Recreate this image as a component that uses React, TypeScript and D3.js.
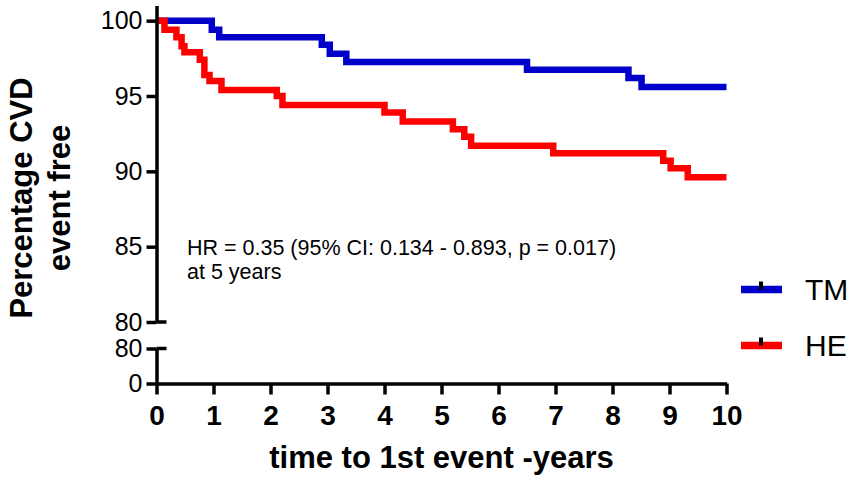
import * as d3 from "d3";
import { useEffect, useRef } from "react";

// Kaplan-Meier steps: [years, % event free]
const TM_STEPS: [number, number][] = [
  [0, 100], [0.97, 99.4], [1.1, 98.9], [2.9, 98.4], [3.04, 97.8], [3.33, 97.25],
  [6.5, 96.75], [8.28, 96.2], [8.51, 95.6], [10, 95.6],
];
const HE_STEPS: [number, number][] = [
  [0, 100], [0.14, 99.4], [0.35, 98.9], [0.44, 98.3], [0.49, 97.9], [0.76, 97.4],
  [0.84, 96.4], [0.93, 96.0], [1.14, 95.4], [2.11, 95.0], [2.21, 94.4], [4.0, 93.9],
  [4.32, 93.3], [5.2, 92.8], [5.4, 92.3], [5.52, 91.7], [6.96, 91.2], [8.89, 90.7],
  [9.02, 90.2], [9.32, 89.6], [10, 89.6],
];
const SERIES_NAMES = ["TM", "HE"];
const SERIES_COLORS = ["#0000c8", "#ff0000"];
const X_TICKS = [0, 1, 2, 3, 4, 5, 6, 7, 8, 9, 10];
const Y_TOP_TICKS = [80, 85, 90, 95, 100];
const Y_BOTTOM_TICKS = [0, 80];
const ANNOTATION = ["HR = 0.35 (95% CI: 0.134 - 0.893, p = 0.017)", "at 5 years"];

const W = 851;
const H = 481;
const FONT = "Arial, 'Liberation Sans', sans-serif";

export default function App() {
  const svgRef = useRef<SVGSVGElement | null>(null);

  useEffect(() => {
    const svg = d3.select(svgRef.current);
    svg.selectAll("*").remove();

    const x0 = 156.5;
    const x = d3.scaleLinear().domain([0, 10]).range([x0, 726.5]);
    const yTop = d3.scaleLinear().domain([80, 101]).range([322, 5.6]);
    const yBottom = d3.scaleLinear().domain([0, 80]).range([383.5, 348.5]);

    const styleAxis = (g: d3.Selection<SVGGElement, unknown, null, undefined>) => {
      g.selectAll("path, line").attr("stroke", "#000").attr("stroke-width", 3.5);
      g.selectAll("text").attr("fill", "#000").attr("font-family", FONT);
    };

    // curves (blue under red)
    const line = d3
      .line<[number, number]>()
      .x(d => x(d[0]))
      .y(d => yTop(d[1]))
      .curve(d3.curveStepAfter);

    [TM_STEPS, HE_STEPS].forEach((series, i) => {
      svg.append("path")
        .attr("d", line(series))
        .attr("fill", "none")
        .attr("stroke", SERIES_COLORS[i])
        .attr("stroke-width", 6.5);
    });

    // upper y axis
    const gTop = svg.append("g").attr("transform", `translate(${x0},0)`)
      .call(d3.axisLeft(yTop).tickValues(Y_TOP_TICKS).tickSize(10).tickSizeOuter(0).tickPadding(4));
    styleAxis(gTop);
    gTop.selectAll("text").attr("font-size", 25);
    gTop.append("line")
      .attr("x1", 0).attr("x2", 10)
      .attr("y1", yTop(80)).attr("y2", yTop(80))
      .attr("stroke", "#000").attr("stroke-width", 3.5);

    // lower y axis
    const gBot = svg.append("g").attr("transform", `translate(${x0},0)`)
      .call(d3.axisLeft(yBottom).tickValues(Y_BOTTOM_TICKS).tickSize(10).tickSizeOuter(0).tickPadding(4));
    styleAxis(gBot);
    gBot.selectAll("text").attr("font-size", 25);
    gBot.append("line")
      .attr("x1", 0).attr("x2", 10)
      .attr("y1", yBottom(80)).attr("y2", yBottom(80))
      .attr("stroke", "#000").attr("stroke-width", 3.5);

    // x axis
    const gX = svg.append("g").attr("transform", `translate(0,${yBottom(0)})`)
      .call(d3.axisBottom(x).tickValues(X_TICKS).tickSize(11).tickSizeOuter(0).tickPadding(11).tickFormat(d3.format("d")));
    styleAxis(gX);
    gX.selectAll("text").attr("font-size", 28).attr("font-weight", "bold");

    // axis titles
    svg.append("text")
      .attr("x", x(5))
      .attr("y", 468)
      .attr("text-anchor", "middle")
      .attr("font-family", FONT)
      .attr("font-weight", "bold")
      .attr("font-size", 31)
      .text("time to 1st event -years");

    const yTitle = svg.append("g").attr("transform", "translate(0,198) rotate(-90)");
    ["Percentage CVD", "event free"].forEach((t, i) => {
      yTitle.append("text")
        .attr("x", 0)
        .attr("y", 32 + i * 38)
        .attr("text-anchor", "middle")
        .attr("font-family", FONT)
        .attr("font-weight", "bold")
        .attr("font-size", 31)
        .text(t);
    });

    // annotation
    ANNOTATION.forEach((t, i) => {
      svg.append("text")
        .attr("x", 187)
        .attr("y", 255 + i * 23.5)
        .attr("font-family", FONT)
        .attr("font-size", 21.5)
        .text(t);
    });

    // legend
    SERIES_NAMES.forEach((name, i) => {
      const cy = 289.5 + i * 56;
      const lg = svg.append("g");
      lg.append("line")
        .attr("x1", 741).attr("x2", 782)
        .attr("y1", cy).attr("y2", cy)
        .attr("stroke", SERIES_COLORS[i])
        .attr("stroke-width", 7.5);
      lg.append("line")
        .attr("x1", 761).attr("x2", 761)
        .attr("y1", cy - 8).attr("y2", cy)
        .attr("stroke", "#000")
        .attr("stroke-width", 4);
      lg.append("text")
        .attr("x", 805)
        .attr("y", cy + 10.5)
        .attr("font-family", FONT)
        .attr("font-size", 30)
        .text(name);
    });
  }, []);

  return (
    <svg
      ref={svgRef}
      width={W}
      height={H}
      style={{ position: "absolute", left: 0, top: 0, background: "#fff" }}
    />
  );
}
